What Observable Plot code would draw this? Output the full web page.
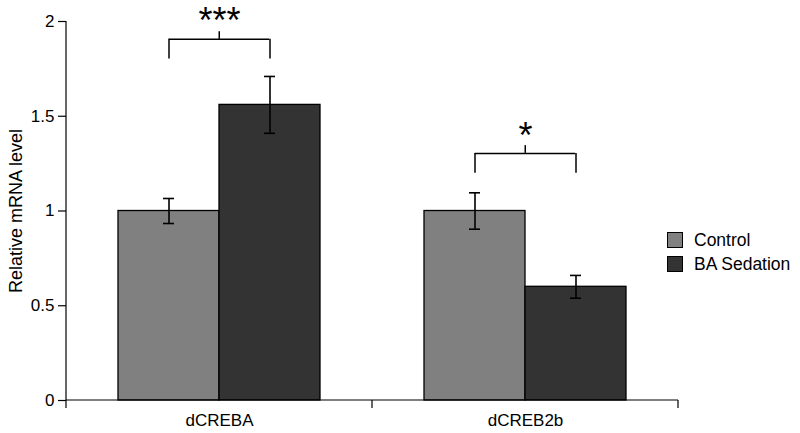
<!DOCTYPE html>
<html><head><meta charset="utf-8">
<script src="https://cdn.jsdelivr.net/npm/d3@7"></script>
<script src="https://cdn.jsdelivr.net/npm/@observablehq/plot@0.6"></script>
<style>
body{margin:0;background:#fff;}
#wrap{position:relative;width:800px;height:433px;font-family:"Liberation Sans",Arial,Helvetica,sans-serif;color:#000;}
#ylabel{position:absolute;left:16px;top:211px;transform:translate(-50%,-50%) rotate(-90deg);white-space:nowrap;font-size:18px;}
#legend{position:absolute;left:667px;top:228px;font-size:17.5px;line-height:24px;}
#legend .row{display:flex;align-items:center;height:24px;}
#legend .sw{width:14px;height:14px;border:1px solid #000;margin-right:11px;}
</style></head><body>
<div id="wrap"><div id="ylabel"></div><div id="legend"></div></div>
<script>
// Data
const genes = ["dCREBA", "dCREBA", "dCREB2b", "dCREB2b"];
const groups = ["Control", "BA Sedation", "Control", "BA Sedation"];
const means = [1.0, 1.56, 1.0, 0.60];
const errors = [0.066, 0.15, 0.096, 0.06];
const groupNames = ["Control", "BA Sedation"];
const geneNames = ["dCREBA", "dCREB2b"];
const colors = ["#808080", "#333333"];
const yTicks = [0, 0.5, 1, 1.5, 2];
const yLabel = "Relative mRNA level";
// significance brackets
const sigGenes = ["dCREBA", "dCREB2b"];
const sigLabels = ["***", "*"];
const bracketTop = [1.906, 1.304];
const bracketLeg = [1.802, 1.199];
const bracketTick = [1.946, 1.345];
const starY = [1.937, 1.335];

const data = genes.map((g, i) => ({gene: g, group: groups[i], mean: means[i], err: errors[i]}));
const sig = sigGenes.map((g, i) => ({gene: g, label: sigLabels[i], top: bracketTop[i], leg: bracketLeg[i], tick: bracketTick[i], star: starY[i]}));
const legs = sig.flatMap(s => groupNames.map(gr => ({gene: s.gene, group: gr, top: s.top, leg: s.leg})));

// layout
const W = 800, H = 433, mL = 65, mR = 122, mT = 21, mB = 33, padOuter = 0.51;
const facetW = (W - mL - mR) / geneNames.length;
const bw = facetW / (groupNames.length + 2 * padOuter); // band width of x inside a facet

const font = '"Liberation Sans", Arial, Helvetica, sans-serif';
const plot = Plot.plot({
  width: W,
  height: H,
  marginLeft: mL,
  marginRight: mR,
  marginTop: mT,
  marginBottom: mB,
  style: {fontFamily: font, fontSize: "17px", background: "#fff", color: "#000", overflow: "visible"},
  fx: {domain: geneNames, padding: 0, label: null},
  x: {domain: groupNames, paddingInner: 0, paddingOuter: padOuter, axis: null},
  y: {domain: [0, 2], label: null},
  color: {domain: groupNames, range: colors},
  marks: [
    Plot.axisY({ticks: yTicks, tickSize: 8, tickPadding: 4, tickFormat: d => String(d), label: null, fontSize: 17, strokeWidth: 1.2}),
    Plot.axisFx({anchor: "bottom", tickSize: 0, tickPadding: 13, label: null, fontSize: 17}),
    Plot.barY(data, {fx: "gene", x: "group", y: "mean", fill: "group", stroke: "#000", strokeWidth: 1.3}),
    Plot.ruleX(data, {fx: "gene", x: "group", y1: d => d.mean - d.err, y2: d => d.mean + d.err, stroke: "#000", strokeWidth: 1.6}),
    Plot.tickY(data, {fx: "gene", x: "group", y: d => d.mean - d.err, stroke: "#000", strokeWidth: 1.6, insetLeft: 45, insetRight: 45}),
    Plot.tickY(data, {fx: "gene", x: "group", y: d => d.mean + d.err, stroke: "#000", strokeWidth: 1.6, insetLeft: 45, insetRight: 45}),
    Plot.ruleY(sig, {fx: "gene", x1: () => groupNames[0], x2: () => groupNames[1], y: "top", stroke: "#000", strokeWidth: 1.5, insetLeft: bw / 2, insetRight: bw / 2}),
    Plot.ruleX(legs, {fx: "gene", x: "group", y1: "leg", y2: "top", stroke: "#000", strokeWidth: 1.5}),
    Plot.ruleX(sig, {fx: "gene", x: () => groupNames[1], y1: "top", y2: "tick", dx: -bw / 2, stroke: "#000", strokeWidth: 1.5}),
    Plot.text(sig, {fx: "gene", y: "star", text: "label", fontSize: 36, lineAnchor: "bottom", fill: "#000"})
  ]
});
document.getElementById("wrap").prepend(plot);
plot.style.position = "absolute"; plot.style.left = "0"; plot.style.top = "0";

// axis lines using the plot's scales
const fx = plot.scale("fx"), y = plot.scale("y");
const svg = d3.select(plot);
const y0 = y.apply(0), yTop = y.apply(yTicks[yTicks.length - 1]);
const bounds = geneNames.map(g => fx.apply(g));
bounds.push(fx.apply(geneNames[geneNames.length - 1]) + fx.bandwidth);
const left = bounds[0], right = bounds[bounds.length - 1];
const g = svg.append("g").attr("stroke", "#000").attr("stroke-width", 1.2);
g.append("line").attr("x1", left).attr("x2", left).attr("y1", yTop).attr("y2", y0);
g.append("line").attr("x1", left).attr("x2", right).attr("y1", y0).attr("y2", y0);
bounds.forEach(b => g.append("line").attr("x1", b).attr("x2", b).attr("y1", y0).attr("y2", y0 + 8));

document.getElementById("ylabel").textContent = yLabel;
const leg = document.getElementById("legend");
groupNames.forEach((n, i) => {
  const row = document.createElement("div"); row.className = "row";
  const sw = document.createElement("div"); sw.className = "sw"; sw.style.background = colors[i];
  const t = document.createElement("span"); t.textContent = n;
  row.append(sw, t); leg.append(row);
});
</script>
</body></html>
